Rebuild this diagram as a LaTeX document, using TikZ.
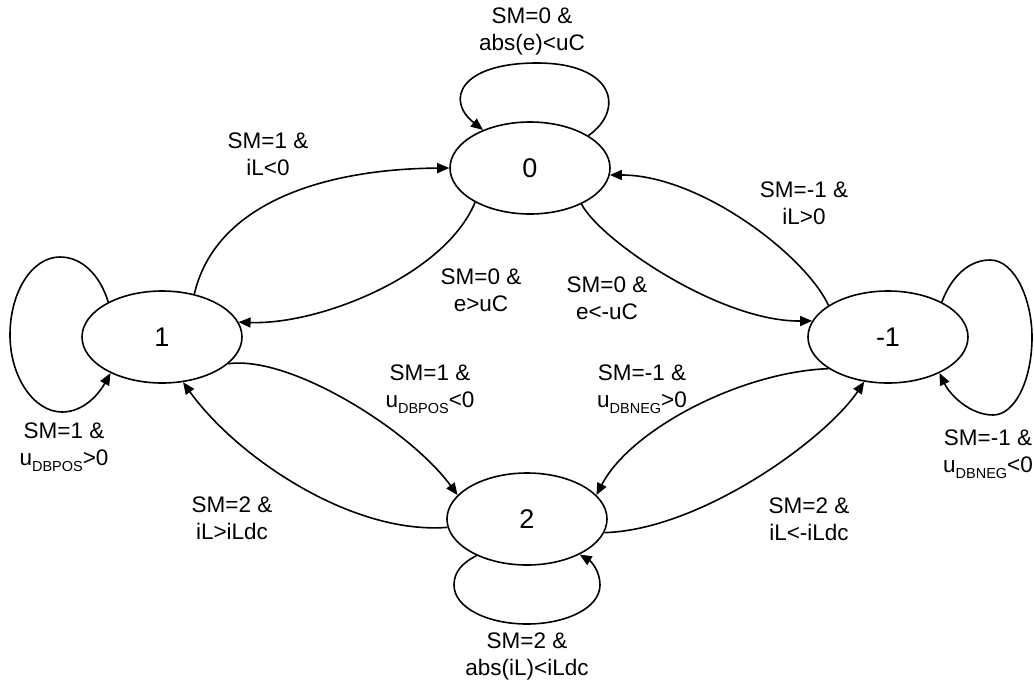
\documentclass[tikz,border=0pt]{standalone}
\usepackage{fontspec}
\setmainfont{Liberation Sans}
\usetikzlibrary{shapes.geometric,arrows.meta}
\newcommand{\dsub}[1]{\raisebox{-6pt}{\fontsize{14.5}{14}\selectfont #1}}
\begin{document}
\begin{tikzpicture}[x=1pt,y=-1pt,
  state/.style={ellipse,draw,line width=1.6pt,minimum width=160pt,minimum height=92pt,inner sep=0pt,font=\fontsize{27}{30}\selectfont},
  lbl/.style={align=center,font=\fontsize{22.5}{27}\selectfont,inner sep=0pt},
  conn/.style={line width=1.6pt,-{Triangle[length=12pt,width=10pt]}}]
\useasboundingbox (0,0) rectangle (1034,686);
\node[state] (n0) at (530,168) {0};
\node[state] (n1) at (162,337) {1};
\node[state] (nm1) at (888,337) {-1};
\node[state] (n2) at (527,519) {2};
% transitions
\draw[conn] (n1.53) .. controls (215,205) and (320,169) .. (n0.180);
\draw[conn] (n0.212) .. controls (445,275) and (320,325) .. (n1.11);
\draw[conn] (nm1.152) .. controls (805,255) and (700,175) .. (n0.355);
\draw[conn] (n0.325) .. controls (600,240) and (720,322) .. (nm1.168);
\draw[conn] (n1.338) .. controls (290,355) and (410,430) .. (n2.161);
\draw[conn] (n2.186) .. controls (350,535) and (235,455) .. (n1.295);
\draw[conn] (nm1.208) .. controls (740,372) and (630,430) .. (n2.19);
\draw[conn] (n2.350) .. controls (700,530) and (825,440) .. (nm1.242);
% self loops
\draw[conn] (n0.29) .. controls (625,110) and (615,63) .. (537,63) .. controls (460,63) and (445,100) .. (n0.141);
\draw[conn] (n1.147) .. controls (100,275) and (82,257) .. (60,257) .. controls (32,257) and (10,292) .. (10,335) .. controls (10,377) and (34,412) .. (62,412) .. controls (85,412) and (100,392) .. (n1.215);
\draw[conn] (nm1.33) .. controls (952,275) and (970,260) .. (990,260) .. controls (1015,260) and (1032,300) .. (1032,337) .. controls (1032,380) and (1015,415) .. (993,415) .. controls (970,415) and (950,395) .. (nm1.325);
\draw[conn] (n2.216) .. controls (462,563) and (454,572) .. (454,585) .. controls (454,608) and (488,624) .. (527,624) .. controls (566,624) and (600,608) .. (600,585) .. controls (600,572) and (592,562) .. (n2.326);
% labels
\node[lbl] (l0) at (532,31) {SM=0 \&\\abs(e)<uC};
\node[lbl] (l10) at (268,154) {SM=1 \&\\iL<0};
\node[lbl] (l01) at (481,290) {SM=0 \&\\e>uC};
\node[lbl] (lm10) at (804,203) {SM=-1 \&\\iL>0};
\node[lbl] (l0m1) at (607,298) {SM=0 \&\\e<-uC};
\node[lbl] (l12) at (430,389) {SM=1 \&\\u\dsub{DBPOS}<0};
\node[lbl] (lm12) at (642,389) {SM=-1 \&\\u\dsub{DBNEG}>0};
\node[lbl] (l21) at (232,518) {SM=2 \&\\iL>iLdc};
\node[lbl] (l2m1) at (809,519) {SM=2 \&\\iL<-iLdc};
\node[lbl] (l11) at (64,447) {SM=1 \&\\u\dsub{DBPOS}>0};
\node[lbl] (lm1m1) at (988,454) {SM=-1 \&\\u\dsub{DBNEG}<0};
\node[lbl] (l22) at (527,656) {SM=2 \&\\abs(iL)<iLdc};
\end{tikzpicture}
\end{document}
